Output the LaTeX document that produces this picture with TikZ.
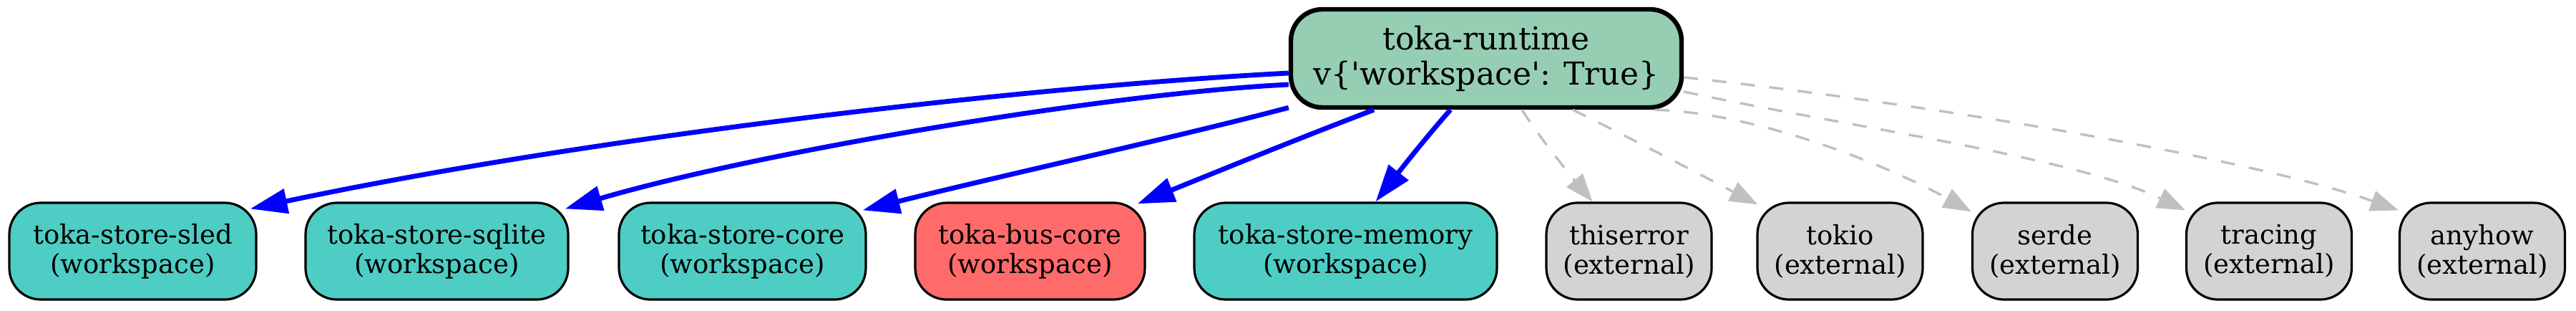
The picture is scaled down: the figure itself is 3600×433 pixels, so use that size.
\documentclass[tikz,border=0pt]{standalone}
\usepackage{fontspec}
\newfontfamily\gvfont{DejaVu Serif}
\usetikzlibrary{arrows.meta,calc}
\definecolor{rtc}{HTML}{96CEB4}
\definecolor{wsc}{HTML}{4ECDC4}
\definecolor{busc}{HTML}{FF6B6B}
\definecolor{extc}{HTML}{D3D3D3}
\definecolor{edgegray}{HTML}{C0C0C0}
\tikzset{
  basebox/.style={draw=black, rounded corners=11pt, align=center, inner sep=0pt,
    minimum height=33.75pt, line width=0.8pt,
    font=\gvfont\fontsize{9.25}{10.25}\selectfont},
  wsbox/.style={basebox, fill=wsc},
  busbox/.style={basebox, fill=busc},
  extbox/.style={basebox, fill=extc, minimum width=57.75pt},
  rtbox/.style={basebox, fill=rtc, line width=1.6pt, minimum width=136.5pt,
    minimum height=34.25pt, font=\gvfont\fontsize{11}{12.25}\selectfont},
  dep/.style={draw=blue, line width=1.7pt, -{Triangle[length=13pt,width=8.5pt]}},
  extdep/.style={draw=edgegray, line width=0.85pt, dash pattern=on 5pt off 5pt,
    -{Triangle[length=9.75pt,width=7.25pt]}},
}
\begin{document}
\begin{tikzpicture}[x=0.25pt,y=-0.25pt]
\useasboundingbox[fill=white] (0,0) rectangle (3600,433);
% nodes
\node[rtbox] (rt) at (2077,81.5) {toka-runtime\\v\{'workspace': True\}};
\node[wsbox, minimum width=86.25pt] (sled) at (185.5,350.5) {toka-store-sled\\(workspace)};
\node[wsbox, minimum width=91.75pt] (sqlite) at (610.5,350.5) {toka-store-sqlite\\(workspace)};
\node[wsbox, minimum width=86.25pt] (core) at (1037.5,350.5) {toka-store-core\\(workspace)};
\node[busbox, minimum width=80.25pt] (bus) at (1439.5,350.5) {toka-bus-core\\(workspace)};
\node[wsbox, minimum width=105.75pt] (mem) at (1880.5,350.5) {toka-store-memory\\(workspace)};
\node[extbox] (thiserror) at (2276.5,350.5) {thiserror\\(external)};
\node[extbox] (tokio) at (2571.5,350.5) {tokio\\(external)};
\node[extbox] (serde) at (2872,350.5) {serde\\(external)};
\node[extbox] (tracing) at (3171,350.5) {tracing\\(external)};
\node[extbox] (anyhow) at (3469,350.5) {anyhow\\(external)};
% workspace dependencies
\draw[dep] ($(rt.west)+(0,20.5)$) .. controls (1450,120) and (840,188) .. ($(sled.north east)+(-10,10)$);
\draw[dep] ($(rt.west)+(0,36.5)$) .. controls (1550,130) and (1060,212) .. ($(sqlite.north east)+(-6,10)$);
\draw[dep] ($(rt.south west)+(0,-3)$) .. controls (1650,190) and (1400,245) .. ($(core.north east)+(-6,12)$);
\draw[dep] ($(rt.south)+(-157,0)$) .. controls (1810,195) and (1700,240) .. ($(bus.north east)+(-12,3)$);
\draw[dep] ($(rt.south)+(-50,0)$) .. controls (1990,195) and (1955,240) .. ($(mem.north)+(42,0)$);
% external dependencies
\draw[extdep] ($(rt.south)+(50,0)$) .. controls (2150,190) and (2195,245) .. ($(thiserror.north)+(-51,0)$);
\draw[extdep] ($(rt.south)+(121,0)$) .. controls (2285,196) and (2375,243) .. ($(tokio.north west)+(2,4)$);
\draw[extdep] ($(rt.south east)+(-40,0)$) .. controls (2460,158) and (2640,232) .. ($(serde.north west)+(0,14)$);
\draw[extdep] ($(rt.east)+(0,46.5)$) .. controls (2600,180) and (2900,220) .. ($(tracing.north west)+(0,12)$);
\draw[extdep] ($(rt.east)+(0,26.5)$) .. controls (2700,145) and (3150,222) .. ($(anyhow.north west)+(0,12)$);
\end{tikzpicture}
\end{document}
